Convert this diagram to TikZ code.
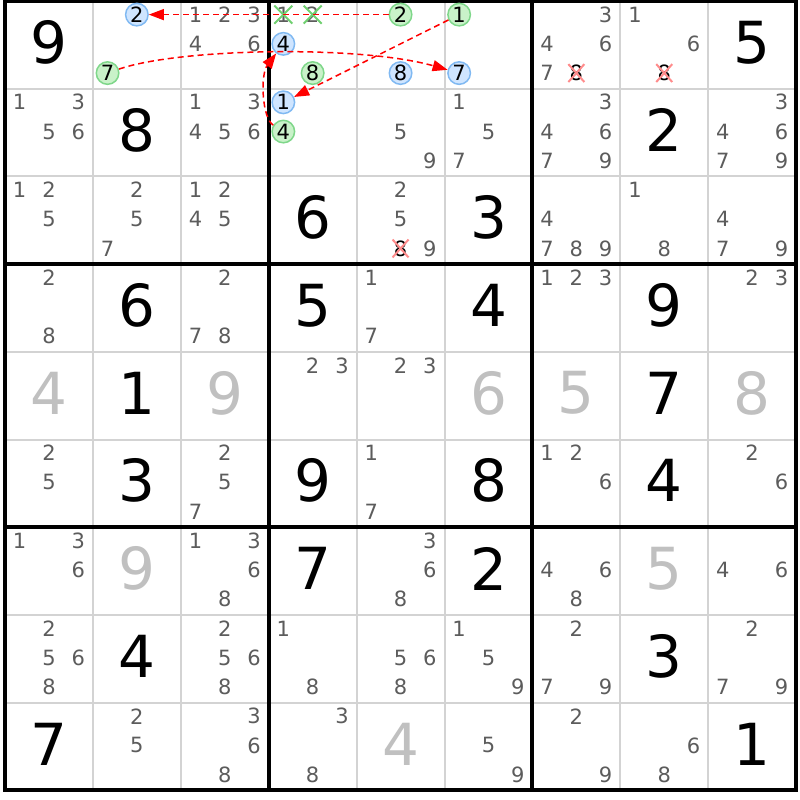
\documentclass[tikz,border=0pt]{standalone}
\usepackage{fontspec}
\setmainfont{DejaVu Sans}
\usetikzlibrary{arrows.meta,shapes.misc}
\definecolor{candgrey}{HTML}{5C5C5C}
\definecolor{solvgrey}{HTML}{C0C0C0}
\definecolor{thingrid}{HTML}{D3D3D3}
\definecolor{bfill}{HTML}{CFE5FF}
\definecolor{bdraw}{HTML}{80B9F2}
\definecolor{gfill}{HTML}{C9F2C9}
\definecolor{gdraw}{HTML}{7FD78A}
\definecolor{xred}{HTML}{FF8C8C}
\definecolor{xgreen}{HTML}{70D070}
\definecolor{linkred}{HTML}{FF0000}
\newcommand\candat[3]{({5+(#2-1)*87.9+(mod(#3-1,3)+0.5)*29.3},{(#1-1)*87.7+(floor((#3-1)/3)+0.5)*29.23})}
\newcommand\cellat[2]{({5+(#2-0.5)*87.9},{1+(#1-0.5)*87.7-2.5})}
\newcommand\cands[3]{\foreach \d in {#3}{\node[cand] (k#1#2\d) at \candat{#1}{#2}{\d} {\d};}}
\newcommand\given[3]{\node[big] (v#1#2) at \cellat{#1}{#2} {#3};}
\newcommand\solved[3]{\node[big,text=solvgrey] (s#1#2) at \cellat{#1}{#2} {#3};}
\begin{document}
\begin{tikzpicture}[x=1pt,y=-1pt,
  cand/.style={font=\fontsize{21}{21}\selectfont, text=candgrey, inner sep=0pt},
  big/.style={font=\fontsize{58}{58}\selectfont, text=black, inner sep=0pt},
  bcirc/.style={circle, draw=bdraw, fill=bfill, line width=1.5pt, minimum size=22.5pt, inner sep=0pt, font=\fontsize{21}{21}\selectfont, text=black},
  gcirc/.style={circle, draw=gdraw, fill=gfill, line width=1.5pt, minimum size=22.5pt, inner sep=0pt, font=\fontsize{21}{21}\selectfont, text=black},
  redx/.style={cross out, draw=xred, line width=2pt, minimum size=14pt, inner sep=0pt, font=\fontsize{21}{21}\selectfont, text=black},
  greenx/.style={cross out, draw=xgreen, line width=2pt, minimum size=16pt, inner sep=0pt, font=\fontsize{21}{21}\selectfont, text=candgrey},
  thinline/.style={draw=thingrid, line width=2pt},
  thickline/.style={draw=black, line width=4pt},
  link/.style={draw=linkred, line width=1.5pt, dash pattern=on 6pt off 4pt, -{Triangle[length=15pt,width=11pt]}}
]
\useasboundingbox (0,0) rectangle (800,800);
\fill[white] (0,0) rectangle (800,800);
% grid
\foreach \i in {1,2,4,5,7,8}{
  \draw[thinline] ({5+\i*87.9},1) -- ({5+\i*87.9},790.3);
  \draw[thinline] (5,{1+\i*87.7}) -- (796.1,{1+\i*87.7});
}
\foreach \i in {0,3,6,9}{
  \draw[thickline] ({5+\i*87.9},-1) -- ({5+\i*87.9},792.3);
  \draw[thickline] (3,{1+\i*87.7}) -- (798.1,{1+\i*87.7});
}
% givens
\given{1}{1}{9}\given{1}{9}{5}
\given{2}{2}{8}\given{2}{8}{2}
\given{3}{4}{6}\given{3}{6}{3}
\given{4}{2}{6}\given{4}{4}{5}\given{4}{6}{4}\given{4}{8}{9}
\given{5}{2}{1}\given{5}{8}{7}
\given{6}{2}{3}\given{6}{4}{9}\given{6}{6}{8}\given{6}{8}{4}
\given{7}{4}{7}\given{7}{6}{2}
\given{8}{2}{4}\given{8}{8}{3}
\given{9}{1}{7}\given{9}{9}{1}
% solved
\solved{5}{1}{4}\solved{5}{3}{9}\solved{5}{6}{6}\solved{5}{7}{5}\solved{5}{9}{8}
\solved{7}{2}{9}\solved{7}{8}{5}\solved{9}{5}{4}
% candidates
\cands{1}{3}{1,2,3,4,6}
\cands{1}{7}{3,4,6,7}
\cands{1}{8}{1,6}
\cands{2}{1}{1,3,5,6}
\cands{2}{3}{1,3,4,5,6}
\cands{2}{5}{5,9}
\cands{2}{6}{1,5,7}
\cands{2}{7}{3,4,6,7,9}
\cands{2}{9}{3,4,6,7,9}
\cands{3}{1}{1,2,5}
\cands{3}{2}{2,5,7}
\cands{3}{3}{1,2,4,5}
\cands{3}{5}{2,5,9}
\cands{3}{7}{4,7,8,9}
\cands{3}{8}{1,8}
\cands{3}{9}{4,7,9}
\cands{4}{1}{2,8}
\cands{4}{3}{2,7,8}
\cands{4}{5}{1,7}
\cands{4}{7}{1,2,3}
\cands{4}{9}{2,3}
\cands{5}{4}{2,3}
\cands{5}{5}{2,3}
\cands{6}{1}{2,5}
\cands{6}{3}{2,5,7}
\cands{6}{5}{1,7}
\cands{6}{7}{1,2,6}
\cands{6}{9}{2,6}
\cands{7}{1}{1,3,6}
\cands{7}{3}{1,3,6,8}
\cands{7}{5}{3,6,8}
\cands{7}{7}{4,6,8}
\cands{7}{9}{4,6}
\cands{8}{1}{2,5,6,8}
\cands{8}{3}{2,5,6,8}
\cands{8}{4}{1,8}
\cands{8}{5}{5,6,8}
\cands{8}{6}{1,5,9}
\cands{8}{7}{2,7,9}
\cands{8}{9}{2,7,9}
\cands{9}{2}{2,5}
\cands{9}{3}{3,6,8}
\cands{9}{4}{3,8}
\cands{9}{6}{5,9}
\cands{9}{7}{2,9}
\cands{9}{8}{6,8}
% eliminated candidates
\node[redx] (x178) at \candat{1}{7}{8} {8};
\node[redx] (x188) at \candat{1}{8}{8} {8};
\node[redx] (x358) at \candat{3}{5}{8} {8};
\node[greenx] (x141) at \candat{1}{4}{1} {1};
\node[greenx] (x142) at \candat{1}{4}{2} {2};
% chain candidates
\node[bcirc] (bc122) at \candat{1}{2}{2} {2};
\node[gcirc] (gc127) at \candat{1}{2}{7} {7};
\node[bcirc] (bc144) at \candat{1}{4}{4} {4};
\node[gcirc] (gc148) at \candat{1}{4}{8} {8};
\node[gcirc] (gc152) at \candat{1}{5}{2} {2};
\node[bcirc] (bc158) at \candat{1}{5}{8} {8};
\node[gcirc] (gc161) at \candat{1}{6}{1} {1};
\node[bcirc] (bc167) at \candat{1}{6}{7} {7};
\node[bcirc] (bc241) at \candat{2}{4}{1} {1};
\node[gcirc] (gc244) at \candat{2}{4}{4} {4};
% links
\draw[link] (gc152) -- (bc122);
\draw[link] (gc161) -- (bc241);
\draw[link] (gc244) .. controls (262,118) and (260,75) .. (bc144);
\draw[link] (gc127) .. controls (180,48) and (360,45) .. (bc167);
\end{tikzpicture}
\end{document}
